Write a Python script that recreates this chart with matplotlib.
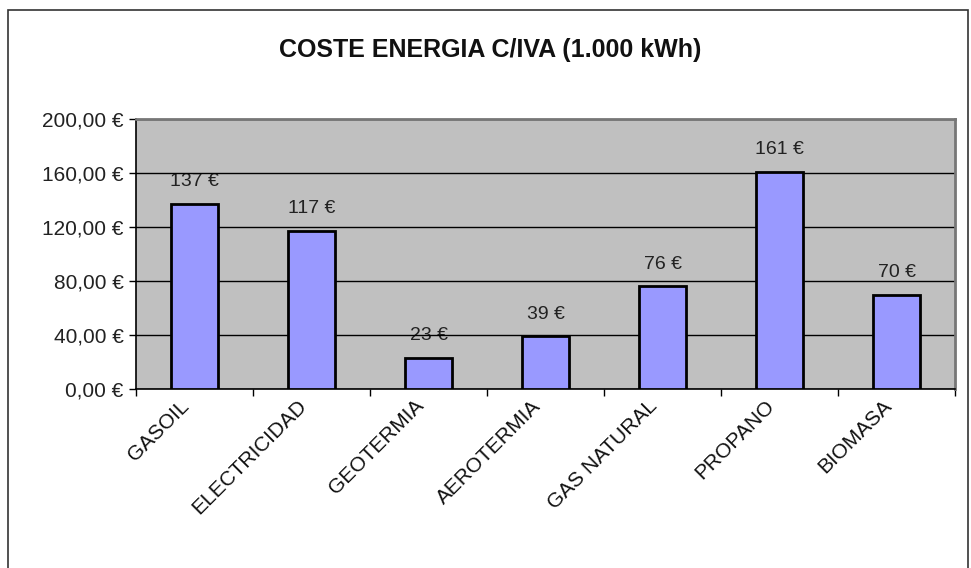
import matplotlib
matplotlib.use("Agg")
import matplotlib.pyplot as plt
from matplotlib.patches import Rectangle
from matplotlib.ticker import FixedLocator, FuncFormatter
from matplotlib.transforms import ScaledTranslation

categories = ["GASOIL", "ELECTRICIDAD", "GEOTERMIA", "AEROTERMIA", "GAS NATURAL", "PROPANO", "BIOMASA"]
values = [137, 117, 23, 39, 76, 161, 70]
yticks = [0, 40, 80, 120, 160, 200]
title = "COSTE ENERGIA C/IVA (1.000 kWh)"

plt.rcParams['font.family'] = ['Liberation Sans', 'DejaVu Sans']

fig = plt.figure(figsize=(9.71, 5.68), dpi=100)
fig.patch.set_facecolor('white')
# outer chart border
fig.add_artist(Rectangle((8/971, -0.05), (968-8)/971, 1.05 - 10/568,
                         transform=fig.transFigure, fill=False,
                         edgecolor='#333333', linewidth=1.2))

ax = fig.add_axes([136/971, 1-389/568, (955-136)/971, (389-119)/568])
ax.set_facecolor('#C0C0C0')
x = list(range(len(categories)))
ax.bar(x, values, width=0.4, color='#9999FF', edgecolor='black', linewidth=2, zorder=3)
ax.set_xlim(-0.5, len(categories)-0.5)
ax.set_ylim(0, 200)
ax.yaxis.set_major_locator(FixedLocator(yticks))
ax.yaxis.set_major_formatter(FuncFormatter(lambda v, p: f"{v:.2f}".replace('.', ',') + " €"))
ax.set_axisbelow(True)
ax.grid(axis='y', color='black', linewidth=1)

ax.set_xticks([i - 0.5 for i in range(len(categories)+1)], minor=False)
ax.set_xticklabels([])
ax.set_xticks(x, minor=True)
ax.set_xticklabels(categories, minor=True, rotation=45, ha='right', va='center',
                   rotation_mode='anchor', fontsize=15, color='#111111')
ax.tick_params(axis='x', which='minor', length=0, pad=10)
ax.tick_params(axis='x', which='major', length=5, width=1, direction='out')
for lab in ax.get_xticklabels(minor=True):
    lab.set_transform(lab.get_transform() + ScaledTranslation(-8/100, 0, fig.dpi_scale_trans))
ax.tick_params(axis='y', length=5, width=1, labelsize=15, labelcolor='#222222', pad=4)

for sp in ['left', 'bottom']:
    ax.spines[sp].set_color('black')
    ax.spines[sp].set_linewidth(1.2)
for sp in ['top', 'right']:
    ax.spines[sp].set_color('#777777')
    ax.spines[sp].set_linewidth(2)

for xi, v in zip(x, values):
    ax.annotate(f"{v} €", (xi, v), xytext=(0, 16), textcoords='offset points',
                ha='center', va='center', fontsize=14, color='#222222', zorder=0.3)

fig.text(490/971, 1-50/568, title, ha='center', va='center', fontsize=18, fontweight='bold', color='#111111')

fig.savefig("out.png", dpi=100)
